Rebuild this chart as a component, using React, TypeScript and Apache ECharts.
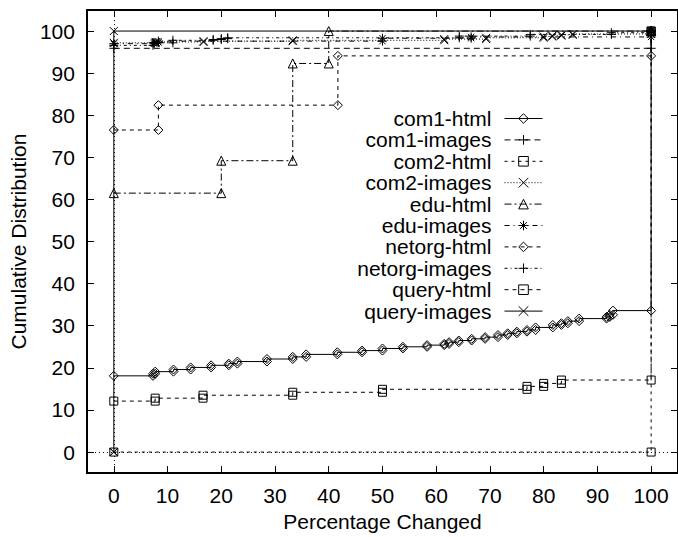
import { useEffect, useRef } from "react";
import * as echarts from "echarts";

// Axis ticks (percent)
const xTicks = [0, 10, 20, 30, 40, 50, 60, 70, 80, 90, 100];
const yTicks = [0, 10, 20, 30, 40, 50, 60, 70, 80, 90, 100];

// Each pair of lists: percentage changed at which the cumulative share steps, and the share reached there.
const com1HtmlX = [0, 7.3, 7.7, 11.1, 14.3, 18.1, 21.4, 23.0, 28.5, 33.3, 35.8, 41.6, 46.2, 50.0, 53.8, 58.3, 61.5, 62.4, 64.2, 66.6, 69.1, 71.5, 73.3, 75.0, 76.9, 78.5, 81.7, 83.3, 84.5, 86.6, 91.7, 92.3, 92.9, 100];
const com1HtmlY = [18.1, 18.6, 19.1, 19.6, 20.1, 20.6, 21.0, 21.5, 22.1, 22.6, 23.2, 23.7, 24.1, 24.6, 25.0, 25.4, 25.7, 26.1, 26.5, 26.9, 27.3, 27.8, 28.2, 28.6, 29.0, 29.6, 30.2, 30.6, 31.1, 31.7, 32.1, 32.6, 33.6, 100];

const com1ImagesX = [0, 100];
const com1ImagesY = [95.9, 100];

const com2HtmlX = [0, 100];
const com2HtmlY = [0, 100];

const com2ImagesX = [0, 7.8, 16.7, 33.3, 61.5, 69.3, 80, 81.6, 83.3, 85.4, 100];
const com2ImagesY = [97.2, 97.4, 97.6, 97.8, 98.1, 98.4, 98.7, 98.9, 99.1, 99.3, 100];

const eduHtmlX = [0, 20, 33.3, 40, 100];
const eduHtmlY = [61.5, 69.2, 92.3, 100, 100];

const eduImagesX = [0, 7.5, 8.3, 50, 66.5, 100];
const eduImagesY = [97.0, 97.3, 97.6, 98.3, 98.6, 100];

const netorgHtmlX = [0, 8.3, 41.7, 100];
const netorgHtmlY = [76.5, 82.4, 94.1, 100];

const netorgImagesX = [0, 7.3, 11.0, 18.5, 20.0, 21.2, 64.3, 77.5, 92.6, 100];
const netorgImagesY = [96.6, 97.2, 97.8, 98.0, 98.2, 98.4, 98.8, 99.2, 99.6, 100];

const queryHtmlX = [0, 7.7, 16.6, 33.3, 50, 76.9, 80, 83.3, 100];
const queryHtmlY = [12.1, 12.8, 13.5, 14.2, 14.9, 15.6, 16.3, 17.1, 100];

const queryImagesX = [0, 0, 100];
const queryImagesY = [0, 100, 100];

const FONT = "'Liberation Sans', Arial, Helvetica, sans-serif";

const PLUS = "path://M0,5L10,5M5,0L5,10";
const CROSS = "path://M0,0L10,10M10,0L0,10";
const STAR = "path://M0,5L10,5M5,0L5,10M1.5,1.5L8.5,8.5M8.5,1.5L1.5,8.5";

const HOLLOW = "rgba(255,255,255,0)";

// Step curve: every change level gets a corner point (old share) and the new share.
function stepPoints(xs: number[], ys: number[]): number[][] {
  const pts: number[][] = [[xs[0], ys[0]]];
  for (let i = 1; i < xs.length; i++) {
    pts.push([xs[i], ys[i - 1]]);
    pts.push([xs[i], ys[i]]);
  }
  return pts;
}

type Def = {
  name: string;
  xs: number[];
  ys: number[];
  symbol: string;
  size: number;
  dash: number[] | "solid";
};

const defs: Def[] = [
  { name: "com1-html", xs: com1HtmlX, ys: com1HtmlY, symbol: "diamond", size: 9, dash: "solid" },
  { name: "com1-images", xs: com1ImagesX, ys: com1ImagesY, symbol: PLUS, size: 9, dash: [6, 4] },
  { name: "com2-html", xs: com2HtmlX, ys: com2HtmlY, symbol: "rect", size: 8, dash: [3, 4] },
  { name: "com2-images", xs: com2ImagesX, ys: com2ImagesY, symbol: CROSS, size: 8, dash: [1, 2] },
  { name: "edu-html", xs: eduHtmlX, ys: eduHtmlY, symbol: "triangle", size: 9, dash: [7, 3, 2, 3] },
  { name: "edu-images", xs: eduImagesX, ys: eduImagesY, symbol: STAR, size: 9, dash: [5, 4, 1, 4] },
  { name: "netorg-html", xs: netorgHtmlX, ys: netorgHtmlY, symbol: "diamond", size: 9, dash: [4, 4] },
  { name: "netorg-images", xs: netorgImagesX, ys: netorgImagesY, symbol: PLUS, size: 9, dash: [3, 3, 1, 3] },
  { name: "query-html", xs: queryHtmlX, ys: queryHtmlY, symbol: "rect", size: 8, dash: [4, 4] },
  { name: "query-images", xs: queryImagesX, ys: queryImagesY, symbol: CROSS, size: 8, dash: "solid" },
];

export default function App() {
  const ref = useRef<HTMLDivElement>(null);

  useEffect(() => {
    if (!ref.current) return;
    const chart = echarts.init(ref.current, undefined, { renderer: "svg" });

    const series: any[] = defs.map((d, i) => {
      const s: any = {
        name: d.name,
        type: "line",
        xAxisIndex: 0,
        yAxisIndex: 0,
        data: stepPoints(d.xs, d.ys),
        symbol: d.symbol,
        symbolSize: d.size,
        showAllSymbol: true,
        lineStyle: { color: "#000", width: 1, type: d.dash },
        itemStyle: { color: HOLLOW, borderColor: "#000", borderWidth: 1 },
        emphasis: { disabled: true },
        z: 3,
      };
      if (i === 2) {
        // dotted zero axes
        s.markLine = {
          silent: true,
          symbol: ["none", "none"],
          label: { show: false },
          lineStyle: { color: "#000", width: 1, type: [1, 3] },
          data: [{ yAxis: 0 }, { xAxis: 0 }],
        };
      }
      return s;
    });

    const rowTop = 118.5;
    const rowStep = 21.4;
    const legends = defs.map((d, i) => ({
      data: [d.name],
      orient: "horizontal",
      align: "right",
      right: 135,
      top: rowTop + rowStep * i - 10.5,
      padding: 0,
      itemWidth: 38,
      itemHeight: 12,
      selectedMode: false,
      itemStyle: { color: HOLLOW, borderColor: "#000", borderWidth: 1 },
      lineStyle: { color: "#000", width: 1, type: d.dash },
      textStyle: { color: "#000", fontSize: 21, fontFamily: FONT, padding: [0, 8, 0, 0] },
    }));

    const tickCommon = { inside: true, length: 7, lineStyle: { color: "#000", width: 1 } };

    chart.setOption({
      animation: false,
      backgroundColor: "#fff",
      textStyle: { fontFamily: FONT },
      legend: legends,
      grid: { left: 79, right: -7, top: 10, bottom: 53, containLabel: false },
      xAxis: [
        {
          type: "value",
          min: -5,
          max: 105,
          position: "bottom",
          name: "Percentage Changed",
          nameLocation: "middle",
          nameGap: 34,
          nameTextStyle: { color: "#000", fontSize: 21, fontFamily: FONT },
          axisLine: { show: true, onZero: false, lineStyle: { color: "#000", width: 2 } },
          axisTick: { ...tickCommon, customValues: xTicks },
          axisLabel: { color: "#000", fontSize: 21, fontFamily: FONT, margin: 12, customValues: xTicks },
          splitLine: { show: false },
        },
        {
          type: "value",
          min: -5,
          max: 105,
          position: "top",
          axisLine: { show: true, onZero: false, lineStyle: { color: "#000", width: 2 } },
          axisTick: { ...tickCommon, customValues: xTicks },
          axisLabel: { show: false },
          splitLine: { show: false },
        },
      ],
      yAxis: [
        {
          type: "value",
          min: -5,
          max: 105,
          position: "left",
          name: "Cumulative Distribution",
          nameLocation: "middle",
          nameGap: 46,
          nameTextStyle: { color: "#000", fontSize: 21, fontFamily: FONT },
          axisLine: { show: true, onZero: false, lineStyle: { color: "#000", width: 2 } },
          axisTick: { ...tickCommon, customValues: yTicks },
          axisLabel: { color: "#000", fontSize: 21, fontFamily: FONT, margin: 12, customValues: yTicks },
          splitLine: { show: false },
        },
        {
          type: "value",
          min: -5,
          max: 105,
          position: "right",
          axisLine: { show: true, onZero: false, lineStyle: { color: "#000", width: 2 } },
          axisTick: { ...tickCommon, customValues: yTicks },
          axisLabel: { show: false },
          splitLine: { show: false },
        },
      ],
      series,
    });

    return () => chart.dispose();
  }, []);

  return (
    <div
      ref={ref}
      style={{ position: "fixed", left: 0, top: 0, width: 678, height: 537, background: "#fff" }}
    />
  );
}
